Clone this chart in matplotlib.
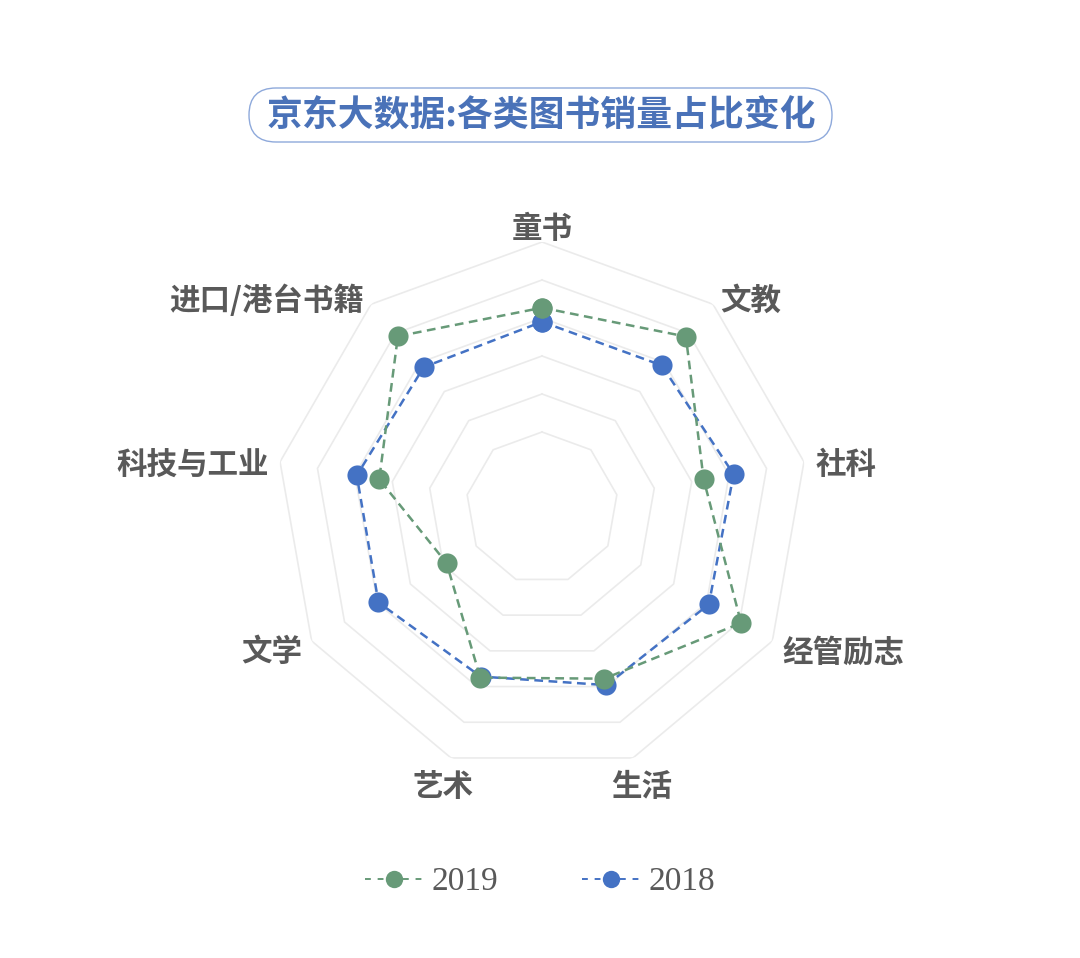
import numpy as np
import matplotlib
matplotlib.use("Agg")
import matplotlib.pyplot as plt
from matplotlib.lines import Line2D
from matplotlib.patches import FancyBboxPatch
from matplotlib.transforms import IdentityTransform

plt.rcParams['font.family'] = ['Noto Sans CJK SC', 'DejaVu Sans']

# data (ring spacing = 1 unit, rings drawn at 2..7)
categories = ['童书', '文教', '社科', '经管励志', '生活', '艺术', '文学', '科技与工业', '进口/港台书籍']
values_2019 = [5.27, 5.89, 4.32, 6.05, 4.78, 4.75, 2.90, 4.35, 5.90]
values_2018 = [4.90, 4.90, 5.12, 5.07, 4.96, 4.72, 4.97, 4.95, 4.84]
rings = [2, 3, 4, 5, 6, 7]
series_names = ['2019', '2018']

green = '#679A78'
blue = '#4472C4'
text_gray = '#595959'

W, H = 1080, 958
fig = plt.figure(figsize=(W / 100, H / 100), dpi=100)

# polar axes centred at (542, 508) px, outer ring radius 266 px
R = 266
cx, cy = 542, 508
ax = fig.add_axes([(cx - R) / W, (H - cy - R) / H, 2 * R / W, 2 * R / H], projection='polar')
ax.set_theta_zero_location('N')
ax.set_theta_direction(-1)
ax.set_ylim(0, 7)
ax.grid(False)
ax.spines['polar'].set_visible(False)
ax.set_xticks([])
ax.set_yticks([])
ax.patch.set_alpha(0)

n = len(categories)
theta = np.arange(n) * 2 * np.pi / n
theta_c = np.append(theta, theta[0])

# nonagon grid
for r in rings:
    ax.plot(theta_c, [r] * (n + 1), color='#EBEBEB', lw=1.2, zorder=1)

def closed(v):
    return np.append(v, v[0])

ax.plot(theta_c, closed(values_2018), color=blue, lw=1.8, dashes=(3.5, 2.2),
        marker='o', markersize=14.5, markeredgewidth=0, zorder=3)
ax.plot(theta_c, closed(values_2019), color=green, lw=1.8, dashes=(3.5, 2.2),
        marker='o', markersize=14.5, markeredgewidth=0, zorder=4)

# category labels
for t, lab in zip(theta, categories):
    deg = np.degrees(t)
    if deg < 1 or abs(deg - 180) < 30:
        ha = 'center'
    elif deg < 180:
        ha = 'left'
    else:
        ha = 'right'
    if deg < 1:
        rr = 7.5
    elif abs(deg - 180) < 30:
        rr = 7.65
    else:
        rr = 7.3
    ax.annotate(lab, xy=(t, rr), xytext=(0, -4), textcoords='offset points',
                ha=ha, va='center', fontsize=22, fontweight='bold',
                color=text_gray, annotation_clip=False)

# title in a rounded box
box = FancyBboxPatch((249, H - 142), 583, 54, boxstyle='round,pad=0,rounding_size=27',
                     transform=IdentityTransform(), fc='white', ec='#8EA9DB', lw=1.0)
fig.add_artist(box)
fig.text(541 / W, (H - 116) / H, '京东大数据:各类图书销量占比变化', ha='center', va='center',
         fontsize=25.8, fontweight='bold', color='#4A72B8')

# legend
handles = [
    Line2D([], [], color=green, lw=1.4, dashes=(3, 3.5), marker='o', markersize=12.5, markeredgewidth=0),
    Line2D([], [], color=blue, lw=1.4, dashes=(3, 3.5), marker='o', markersize=12.5, markeredgewidth=0),
]
leg = fig.legend(handles, series_names, loc='center', bbox_to_anchor=(540 / W, (H - 882) / H),
                 ncol=2, frameon=False, handlelength=1.75, handletextpad=0.25, columnspacing=2.5,
                 prop={'family': 'Liberation Serif', 'size': 24})
for txt in leg.get_texts():
    txt.set_color(text_gray)

fig.savefig('out.png', dpi=100, facecolor='white')
